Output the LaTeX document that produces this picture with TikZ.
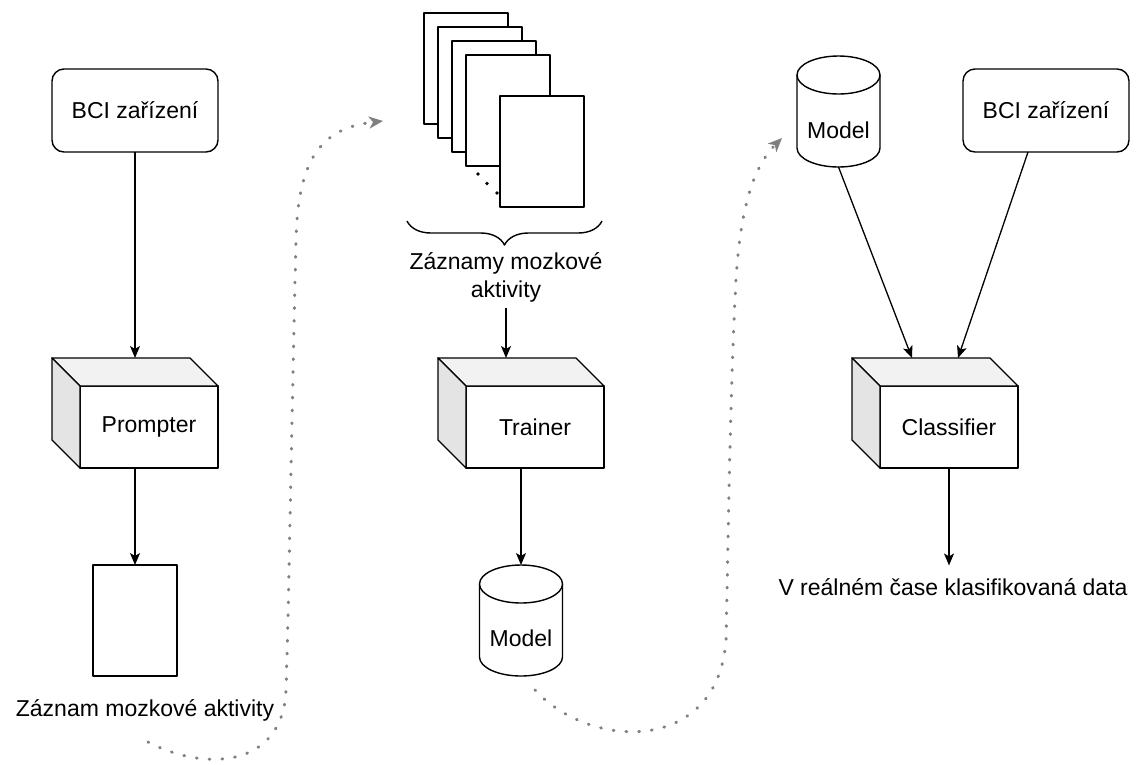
\documentclass[tikz,border=0pt]{standalone}
\usepackage{fontspec}
\setmainfont{Liberation Sans}
\usetikzlibrary{arrows.meta,calc,decorations.pathreplacing}
\definecolor{dotgray}{RGB}{128,128,128}
\definecolor{topface}{RGB}{242,242,242}
\definecolor{sideface}{RGB}{228,228,228}

% top and left faces of a box whose front face is node #1
\newcommand\cubefaces[1]{%
  \filldraw[ln, fill=topface] (#1.north west) -- ++(-28,-28) -- ++(138,0) -- (#1.north east) -- cycle;
  \filldraw[ln, fill=sideface] (#1.north west) -- ++(-28,-28) -- ++(0,82) -- (#1.south west) -- cycle;}

% database drum drawn over the (empty) node #1
\newcommand\drum[1]{%
  \draw[ln, fill=white] ($(#1.north west)+(0,19)$) -- ($(#1.south west)+(0,-19)$)
     arc[start angle=180, end angle=360, x radius=41.5pt, y radius=19pt]
     -- ($(#1.north east)+(0,19)$);
  \draw[ln, fill=white] ($(#1.north)+(0,19)$) ellipse[x radius=41.5pt, y radius=19pt];}

\begin{document}
\begin{tikzpicture}[x=1pt, y=-1pt,
  every node/.style={font=\fontsize{23}{28}\selectfont, inner sep=0pt, outer sep=0pt},
  ln/.style={line width=1.4pt, line join=round},
  device/.style={ln, draw, rounded corners=12pt, minimum width=166pt, minimum height=83pt},
  sheet/.style={ln, draw, fill=white, minimum width=84pt, minimum height=111pt},
  front/.style={ln, draw, fill=white, minimum width=138pt, minimum height=82pt},
  drumbox/.style={minimum width=83pt, minimum height=111pt},
  flow/.style={line width=1.3pt, -{Stealth[length=12pt, width=10pt, inset=3pt]}},
  hop/.style={dotgray, line width=3pt, line cap=round, dash pattern=on 0.8pt off 12pt,
              -{Stealth[length=14pt, width=12pt, inset=4pt]}},
]
\fill[white] (0,0) rectangle (1137,764);
\useasboundingbox (0,0) rectangle (1137,764);

% ---- recording stage ----
\node[device] (bci1) at (135,110.5) {BCI zařízení};
\node[front] (prompter) at (149,427) {Prompter};
\cubefaces{prompter}
\node[sheet] (doc1) at (135,620.5) {};
\node (rec1) at (145,710) {Záznam mozkové aktivity};

\draw[flow] (bci1.south) -- ($(prompter.north)+(-14,-28)$);
\draw[flow] ($(prompter.south)+(-14,0)$) -- (doc1.north);

% ---- training stage ----
\node[sheet] (page1) at (466,68.5) {};
\node[sheet] (page2) at (480,82.5) {};
\node[sheet] (page3) at (494,96.5) {};
\node[sheet] (page4) at (508,110.5) {};
\node[sheet] (page5) at (542,151.5) {};
\foreach \p in {(478,174),(487,183.5),(497,193)}
  \fill \p circle[radius=1.8pt];
\draw[ln, decorate, decoration={brace, mirror, amplitude=24pt}] (407,221) -- (602,221);
\node[align=center] (recs) at (506,277) {Záznamy mozkové\\aktivity};

\node[front] (trainer) at (535,427) {Trainer};
\cubefaces{trainer}
\node[drumbox] (model1) at (521,620.5) {};
\drum{model1}
\node (model1txt) at (521,638) {Model};

\coordinate (trtop) at ($(trainer.north)+(-14,-28)$);
\coordinate (recsfoot) at ($(recs.south)+(0,6)$);
\draw[flow] (recsfoot) -- (recsfoot |- trtop);
\draw[flow] ($(trainer.south)+(-14,0)$) -- (model1.north);

% ---- classification stage ----
\node[drumbox] (model2) at (838.5,111.5) {};
\drum{model2}
\node (model2txt) at (838.5,130) {Model};
\node[device] (bci2) at (1046,110.5) {BCI zařízení};
\node[front] (classifier) at (949,427) {Classifier};
\cubefaces{classifier}
\node (rt) at (953,587) {V reálném čase klasifikovaná data};

\draw[flow] (model2.south) -- ($(classifier.north)+(-37,-28)$);
\draw[flow] ($(bci2.south)+(-18,0)$) -- ($(classifier.north)+(9,-28)$);
\draw[flow] (classifier.south) -- ($(rt.north)+(-4,-13)$);

% ---- hand-over between stages ----
\coordinate (h1a) at (148,742);
\coordinate (h1b) at (383,121);
\coordinate (h2a) at (535,690);
\coordinate (h2b) at (782,138);
\draw[hop] (h1a) .. controls (205,772) and (283,768) .. (286,690)
  .. controls (289,600) and (292,400) .. (296,240)
  .. controls (298,160) and (320,128) .. (h1b);
\draw[hop] (h2a) .. controls (590,750) and (718,755) .. (726,640)
  .. controls (728,550) and (730,400) .. (735,300)
  .. controls (738,220) and (750,170) .. (h2b);
\end{tikzpicture}
\end{document}
